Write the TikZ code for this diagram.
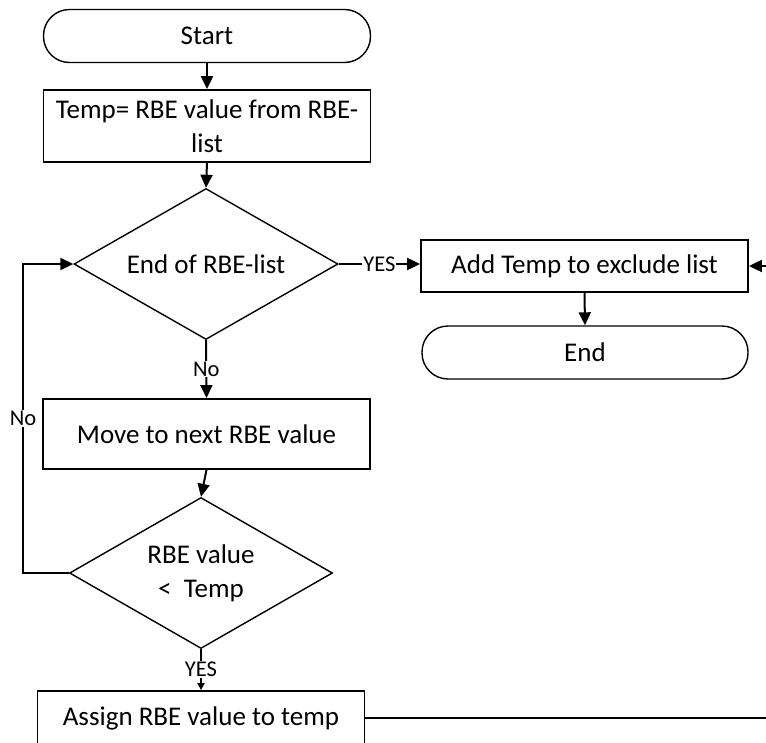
\documentclass[tikz,border=0pt]{standalone}
\usepackage{fontspec}
\setmainfont{Carlito}
\usetikzlibrary{shapes.geometric,arrows.meta,calc}
\begin{document}
\begin{tikzpicture}[x=1pt,y=1pt,
  every node/.style={font=\fontsize{27}{34}\selectfont},
  procbox/.style={draw, line width=1.8pt, rectangle, minimum width=327pt, inner sep=0pt, align=center},
  termbox/.style={draw, line width=1.4pt, rectangle, rounded corners=26pt, minimum width=327pt, minimum height=53pt, inner sep=0pt},
  decision/.style={draw, line width=1.4pt, diamond, aspect=1.75, minimum width=264pt, minimum height=151pt, inner sep=0pt, align=center},
  flow/.style={line width=2pt, -{Triangle[length=13pt,width=12pt]}},
  smallflow/.style={line width=2pt, -{Triangle[length=7pt,width=7pt]}},
  lbl/.style={fill=white, inner sep=1pt, font=\fontsize{22.5}{24}\selectfont},
]
\useasboundingbox (0,0) rectangle (766,-742);
\clip (0,0) rectangle (766,-742);

% main column
\node[termbox] (start) at (207,-36) {Start};
\node[procbox, minimum height=72pt] (temp) at (207,-126) {Temp= RBE value from RBE-\\list};
\node[decision] (endq) at (206,-264) {End of RBE-list};
\node[procbox, minimum height=70pt] (next) at (206.5,-434) {Move to next RBE value};
\node[decision, minimum width=263pt] (less) at (201,-573) {RBE value\\<\ \ Temp};
\node[procbox, minimum height=54pt] (assign) at (201,-718) {Assign RBE value to temp};

% right column
\node[procbox, minimum height=52pt] (excl) at (584.5,-266) {Add Temp to exclude list};
\node[termbox, minimum width=326pt] (stop) at (585,-352.5) {End};

% loop helpers
\coordinate (loopx) at (23,0);
\coordinate (retx) at (790,0);

% connectors
\draw[flow] (start.south) -- (temp.north);
\draw[flow] (temp.south) -- (endq.north);
\draw[flow] (endq.east) -- node[lbl] {YES} (endq.east -| excl.west);
\draw[flow] (excl.south) -- (stop.north);
\draw[flow] (endq.south) -- node[lbl] {No} (next.north);
\draw[flow] (next.south) -- (less.north);
\draw[flow] (less.west) -- (loopx |- less.west) -- node[lbl] {No} (loopx |- endq.west) -- (endq.west);
\draw[smallflow] (less.south) -- node[lbl] {YES} (assign.north);
\draw[flow] (assign.east) -- (retx |- assign.east) -- (retx |- excl.east) -- (excl.east);
\end{tikzpicture}
\end{document}
